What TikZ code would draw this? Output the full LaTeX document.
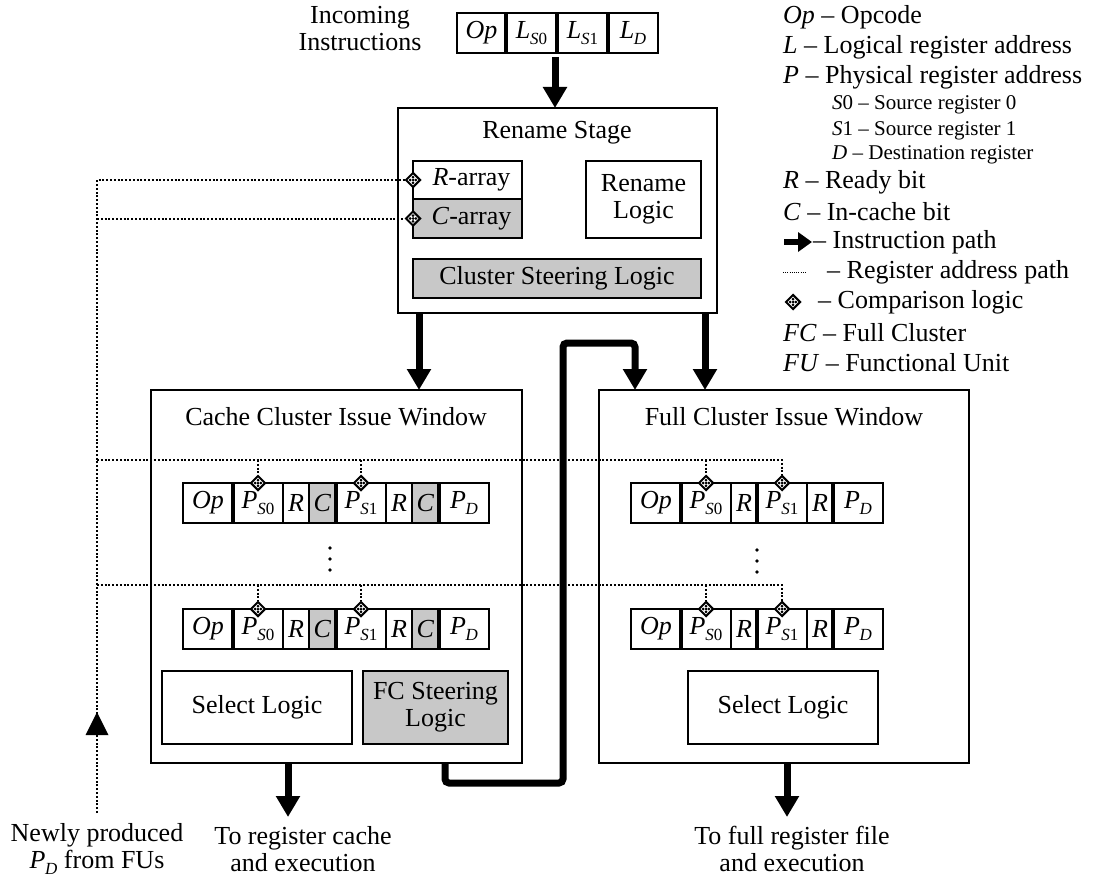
\documentclass[tikz,border=0pt]{standalone}
\usepackage{fontspec}
\setmainfont{Liberation Serif}
\usetikzlibrary{arrows.meta,shapes.geometric}
\definecolor{boxgray}{RGB}{200,200,200}
\newcommand\rsub[3]{\textit{#1}\kern-0.3pt\raisebox{-0.25em}{\fontsize{17}{17}\selectfont\textit{#2}#3}}
\newcommand\cmpmark[2]{%
  \node[cmpd] (#1) at (#2) {};
  \foreach \dx/\dy in {0/0,2.9/0,-2.9/0,0/2.9,0/-2.9}{%
    \fill ([shift={(\dx pt,\dy pt)}]#1.center) +(-1.5pt,0pt) -- +(0pt,1.5pt) -- +(1.5pt,0pt) -- +(0pt,-1.5pt) -- cycle;}%
}
\begin{document}
\begin{tikzpicture}[x=1pt,y=-1pt,
  every node/.style={font=\fontsize{26}{27}\selectfont, align=center},
  bigbox/.style={draw, line width=2pt, fill=white, anchor=north west, inner sep=0pt, outer sep=0pt},
  inbox/.style={draw, line width=1.8pt, fill=white, anchor=north west, inner sep=0pt, outer sep=0pt},
  field/.style={draw, line width=1.5pt, fill=white, minimum height=40pt, inner sep=0pt, outer sep=0pt, anchor=west},
  sepline/.style={line width=3.8pt},
  cmpd/.style={shape=diamond, draw, line width=2pt, fill=white, minimum width=15pt, minimum height=15pt, inner sep=0pt},
  ipath/.style={line width=7pt, -{Triangle[width=23pt,length=21pt]}},
  rpath/.style={line width=2pt, dash pattern=on 2pt off 1.8pt},
  lg/.style={anchor=west, inner sep=0pt, font=\fontsize{26}{27}\selectfont},
  lgs/.style={anchor=west, inner sep=0pt, font=\fontsize{21}{24}\selectfont}
]
\fill[white] (0,0) rectangle (1094,880);
\useasboundingbox (0,0) rectangle (1094,880);

% ---- incoming instructions
\node (inctxt) at (360,29) {Incoming\\Instructions};
\node[field, minimum width=49pt, anchor=north west] (iop) at (457,13) {\textit{Op}};
\node[field, minimum width=51pt] (ils0) at (iop.east) {\rsub{L}{S}{0}};
\node[field, minimum width=51pt] (ils1) at (ils0.east) {\rsub{L}{S}{1}};
\node[field, minimum width=50pt] (ild) at (ils1.east) {\rsub{L}{D}{}};
\draw[sepline] (ils0.north west) -- (ils0.south west);
\draw[sepline] (ils1.north west) -- (ils1.south west);
\draw[sepline] (ild.north west) -- (ild.south west);

% ---- rename stage
\node[bigbox, minimum width=319pt, minimum height=205pt] (rename) at (398,108) {};
\node (rntitle) at (557,133) {Rename Stage};
\node[inbox, minimum width=109pt, minimum height=38pt] (rarr) at (413,161) {\hspace*{8pt}\textit{R}-array};
\node[inbox, minimum width=109pt, minimum height=39pt, fill=boxgray] (carr) at (413,199) {\hspace*{8pt}\textit{C}-array};
\node[inbox, minimum width=115pt, minimum height=77pt] (rlogic) at (586,161) {Rename\\Logic};
\node[inbox, minimum width=288pt, minimum height=39pt, fill=boxgray] (csl) at (413,259) {Cluster Steering Logic};
\cmpmark{rdm}{rarr.west}
\cmpmark{cdm}{carr.west}

% ---- cache cluster
\node[bigbox, minimum width=371pt, minimum height=373pt] (cache) at (151,390) {};
\node (ctitle) at (336,417) {Cache Cluster Issue Window};
\foreach \r/\y in {ca/483,cb/609}{
  \node[field, minimum width=50pt, anchor=north west] (\r op) at (183,\y) {\textit{Op}};
  \node[field, minimum width=50pt] (\r ps0) at (\r op.east) {\rsub{P}{S}{0}};
  \node[field, minimum width=26pt] (\r r0) at (\r ps0.east) {\textit{R}};
  \node[field, minimum width=27pt, fill=boxgray] (\r c0) at (\r r0.east) {\textit{C}};
  \node[field, minimum width=50pt] (\r ps1) at (\r c0.east) {\rsub{P}{S}{1}};
  \node[field, minimum width=26pt] (\r r1) at (\r ps1.east) {\textit{R}};
  \node[field, minimum width=27pt, fill=boxgray] (\r c1) at (\r r1.east) {\textit{C}};
  \node[field, minimum width=50pt] (\r pd) at (\r c1.east) {\rsub{P}{D}{}};
  \draw[sepline] (\r ps0.north west) -- (\r ps0.south west);
  \draw[sepline] (\r ps1.north west) -- (\r ps1.south west);
  \draw[sepline] (\r pd.north west) -- (\r pd.south west);
}
\cmpmark{cad0}{caps0.north}
\cmpmark{cad1}{caps1.north}
\cmpmark{cbd0}{cbps0.north}
\cmpmark{cbd1}{cbps1.north}
\node[inbox, minimum width=190pt, minimum height=73pt] (csel) at (162,671) {Select Logic};
\node[inbox, minimum width=145pt, minimum height=73pt, fill=boxgray] (fcs) at (363,671) {FC Steering\\Logic};
\fill (330,548) circle (1.8);
\fill (330,559) circle (1.8);
\fill (330,570) circle (1.8);

% ---- full cluster
\node[bigbox, minimum width=370pt, minimum height=373pt] (full) at (599,390) {};
\node (ftitle) at (784,417) {Full Cluster Issue Window};
\foreach \r/\y in {fa/483,fb/609}{
  \node[field, minimum width=50pt, anchor=north west] (\r op) at (631,\y) {\textit{Op}};
  \node[field, minimum width=50pt] (\r ps0) at (\r op.east) {\rsub{P}{S}{0}};
  \node[field, minimum width=26pt] (\r r0) at (\r ps0.east) {\textit{R}};
  \node[field, minimum width=50pt] (\r ps1) at (\r r0.east) {\rsub{P}{S}{1}};
  \node[field, minimum width=26pt] (\r r1) at (\r ps1.east) {\textit{R}};
  \node[field, minimum width=50pt] (\r pd) at (\r r1.east) {\rsub{P}{D}{}};
  \draw[sepline] (\r ps0.north west) -- (\r ps0.south west);
  \draw[sepline] (\r ps1.north west) -- (\r ps1.south west);
  \draw[sepline] (\r pd.north west) -- (\r pd.south west);
}
\cmpmark{fad0}{faps0.north}
\cmpmark{fad1}{faps1.north}
\cmpmark{fbd0}{fbps0.north}
\cmpmark{fbd1}{fbps1.north}
\node[inbox, minimum width=190pt, minimum height=73pt] (fsel) at (688,671) {Select Logic};
\fill (757,550) circle (1.8);
\fill (757,561) circle (1.8);
\fill (757,572) circle (1.8);

% ---- register address paths (dotted)
\coordinate (fuend) at (97,813);
\coordinate (bus1) at (97,460);
\coordinate (bus2) at (97,585);
\draw[rpath] (fuend) -- (fuend |- rdm.west) -- (rdm.west);
\draw[rpath] (fuend |- cdm.west) -- (cdm.west);
\draw[rpath] (bus1) -- (bus1 -| fad1) -- (fad1.north);
\draw[rpath] (bus1 -| cad0) -- (cad0.north);
\draw[rpath] (bus1 -| cad1) -- (cad1.north);
\draw[rpath] (bus1 -| fad0) -- (fad0.north);
\draw[rpath] (bus2) -- (bus2 -| fbd1) -- (fbd1.north);
\draw[rpath] (bus2 -| cbd0) -- (cbd0.north);
\draw[rpath] (bus2 -| cbd1) -- (cbd1.north);
\draw[rpath] (bus2 -| fbd0) -- (fbd0.north);
\fill (97,712) -- (108.5,735) -- (85.5,735) -- cycle;
\node (newtxt) at (97,849) {Newly produced\\\rsub{P}{D}{} from FUs};

% ---- instruction paths (thick)
\coordinate (ia) at (555,0);
\coordinate (ra) at (419,0);
\coordinate (rb) at (705,0);
\draw[ipath, shorten <=4pt] (ia |- ils0.south) -- (ia |- rename.north);
\draw[ipath] (ra |- rename.south) -- (ra |- cache.north);
\draw[ipath] (rb |- rename.south) -- (rb |- full.north);
\coordinate (j1) at (445,783);
\coordinate (j2) at (563,343);
\coordinate (j3) at (635,343);
\draw[ipath, rounded corners=4pt] (j1 |- cache.south) -- (j1) -- (j1 -| j2) -- (j2) -- (j3) -- (j3 |- full.north);
\coordinate (co) at (288,817);
\coordinate (fo) at (787,817);
\draw[ipath] (co |- cache.south) -- (co);
\draw[ipath] (fo |- full.south) -- (fo);
\node (ctxt) at (303,849) {To register cache\\and execution};
\node (ftxt) at (792,849) {To full register file\\and execution};

% ---- legend
\node[lg] (lg1) at (783,17) {\textit{Op} -- Opcode};
\node[lg] (lg2) at (783,47) {\textit{L} -- Logical register address};
\node[lg] (lg3) at (783,77) {\textit{P} -- Physical register address};
\node[lgs] (lg4) at (832,105) {\textit{S}0 -- Source register 0};
\node[lgs] (lg5) at (832,131) {\textit{S}1 -- Source register 1};
\node[lgs] (lg6) at (832,155) {\textit{D} -- Destination register};
\node[lg] (lg7) at (783,182) {\textit{R} -- Ready bit};
\node[lg] (lg8) at (783,212) {\textit{C} -- In-cache bit};
\coordinate (la1) at (784,242);
\coordinate (la2) at (812,242);
\draw[line width=6pt, -{Triangle[width=19pt,length=14pt]}] (la1) -- (la2);
\node[lg] (lg9) at (813,242) {-- Instruction path};
\coordinate (ld1) at (783,272);
\coordinate (ld2) at (807,272);
\draw[line width=1pt, dash pattern=on 1pt off 1.2pt] (ld1) -- (ld2);
\node[lg] (lg10) at (827,272) {-- Register address path};
\cmpmark{lgd}{793,302}
\node[lg] (lg11) at (818,302) {-- Comparison logic};
\node[lg] (lg12) at (783,333) {\textit{FC} -- Full Cluster};
\node[lg] (lg13) at (783,363) {\textit{FU} -- Functional Unit};
\end{tikzpicture}
\end{document}
